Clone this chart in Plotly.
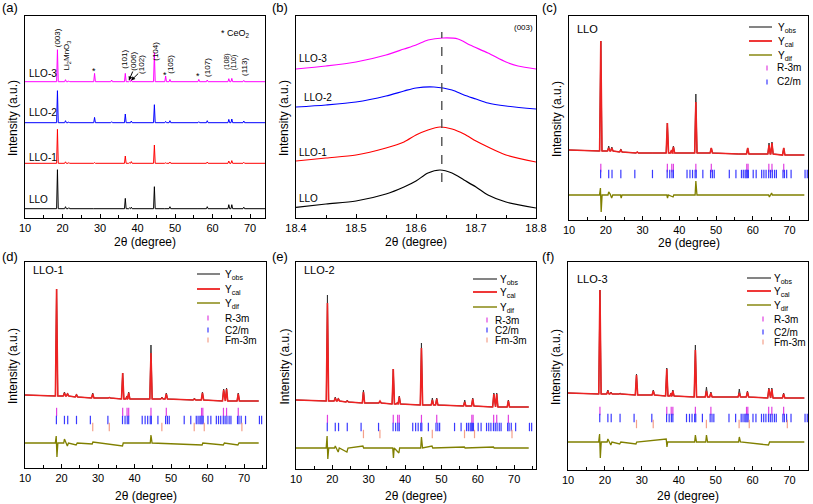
import plotly.graph_objects as go

W, H = 813, 504
FONT = "Arial, 'Liberation Sans', sans-serif"

# ---------------- DATA ----------------
# (a) XRD patterns: peak positions (2theta) and peak heights above each baseline
a_peaks = [18.65, 20.8, 21.7, 28.55, 33.1, 36.75, 37.9, 38.35, 44.5, 47.5, 48.65, 56.35, 58.6, 64.35, 65.15, 68.35]
a_LLO   = [39, 2, 1, 0, 0, 10.3, 0.8, 1.5, 22, 0, 2, 0, 2, 4, 4, 1.5]
a_LLO1  = [34, 1.5, 0.8, 0.7, 0, 7.3, 0.6, 1.7, 18.3, 0.5, 1.3, 0, 1.3, 2.3, 2.7, 1]
a_LLO2  = [32, 2, 0.8, 5.3, 1, 8.7, 0.6, 1.7, 18, 1.3, 2, 1, 2, 3.3, 3.7, 1.7]
a_LLO3  = [32, 2, 0.8, 8.3, 1.7, 8.3, 0.8, 2, 29, 5.7, 2.3, 2.3, 1.7, 3, 3.3, 1.3]
a_samples = ["LLO", "LLO-1", "LLO-2", "LLO-3"]
a_offsets = [9.3, 54.7, 95.3, 136.3]

# (b) zoom on (003) reflection
b_LLO_x  = [18.40, 18.45, 18.50, 18.55, 18.58, 18.60, 18.62, 18.64, 18.66, 18.68, 18.70, 18.72, 18.75, 18.80]
b_LLO_y  = [10.7, 14, 17, 24, 31, 37, 45, 48, 45, 38, 31, 23, 16, 10]
b_LLO1_x = [18.40, 18.45, 18.50, 18.55, 18.58, 18.60, 18.62, 18.64, 18.66, 18.68, 18.70, 18.72, 18.75, 18.80]
b_LLO1_y = [57, 60, 63, 70, 76, 83, 88, 91, 89, 84, 77, 71, 63, 56]
b_LLO2_x = [18.40, 18.45, 18.50, 18.55, 18.58, 18.60, 18.63, 18.66, 18.68, 18.70, 18.72, 18.75, 18.80]
b_LLO2_y = [111, 113, 116, 122, 127, 130, 131, 128, 123, 119, 115, 112, 109]
b_LLO3_x = [18.40, 18.45, 18.50, 18.55, 18.58, 18.60, 18.62, 18.645, 18.67, 18.69, 18.72, 18.75, 18.77, 18.80]
b_LLO3_y = [149, 152, 156, 163, 169, 173, 178, 180, 179, 173, 165, 156, 152, 149]
b_ref = 18.643

# Rietveld panels (c)-(f)
rv_peaks = [18.65, 20.8, 21.65, 24.1, 28.55, 33.1, 36.75, 37.9, 38.4, 44.5, 47.5, 48.7, 56.4, 58.6, 64.4, 65.2, 68.4]

c_base = [69, 69, 69, 68, 67, 67, 67, 67, 67, 67, 67, 67, 66, 66, 66, 66, 65]
c_obs  = [179, 74, 73, 71, 68, 67, 97, 70, 74, 126, 67, 72, 66, 72, 77, 78, 72]
c_cal  = [179, 72, 72, 70, 68, 67, 97, 70, 73, 118, 67, 72, 66, 72, 75, 77, 72]
c_bg   = [(10, 70), (74, 65)]
c_dif_x = [10, 18.3, 18.55, 18.75, 19.0, 20.6, 20.8, 21.2, 21.6, 21.9, 24.0, 24.2, 24.4, 36.6, 36.8, 37.0, 38.3, 38.5, 44.3, 44.5, 44.8, 64.3, 64.5, 65.1, 65.3, 74]
c_dif_y = [25, 25, 32, 8, 25, 25, 28, 26, 22, 25, 25, 22, 25, 25, 22, 25, 23, 25, 25, 39, 25, 25, 23, 27, 25, 25]

d_base = [72, 72, 72, 71, 70, 70, 69, 69, 69, 69, 69, 69, 68, 68, 67, 67, 67]
d_obs  = [179, 76, 75, 74, 75, 70.5, 95, 72, 76, 123, 71, 75, 70, 76, 79, 80, 75]
d_cal  = [179, 75, 74, 73, 74, 70.5, 95, 71, 75, 115, 70, 74, 69, 75, 78, 79, 74]
d_bg   = [(10, 73), (74, 67)]
d_dif_x = [10, 18.3, 18.55, 18.75, 19.0, 20.6, 20.8, 21.1, 21.6, 21.9, 24.0, 24.3, 28.4, 28.6, 36.7, 36.9, 44.3, 44.5, 44.8, 58.5, 58.7, 64.3, 64.6, 68.3, 68.6, 74]
d_dif_y = [25, 25, 32, 11, 25, 25, 29, 26, 22, 25, 23, 25, 24, 26, 22, 25, 25, 33, 25, 23, 25, 23, 25, 23, 25, 25]

e_base = [68, 68, 68, 67, 66, 66, 65, 65, 65, 64, 64, 64, 63, 63, 62, 62, 62]
e_obs  = [174, 72, 71, 69, 79, 68, 100, 67, 73, 126, 71, 71, 69, 71, 76, 76, 69]
e_cal  = [166, 71, 70, 68, 77, 68, 100, 66, 72, 121, 69, 70, 67, 70, 75, 75, 68]
e_bg   = [(10, 69), (74, 62)]
e_dif_x = [10, 18.3, 18.55, 18.75, 19.0, 20.6, 20.8, 21.1, 21.6, 21.9, 24.0, 24.3, 28.4, 28.6, 36.6, 36.8, 37.0, 38.3, 38.5, 44.3, 44.5, 44.8, 47.4, 47.6, 56.3, 56.5, 64.3, 64.5, 74]
e_dif_y = [21, 21, 33, 10, 21, 21, 23, 21, 17, 21, 17, 21, 23, 21, 21, 11, 21, 16, 21, 21, 32, 21, 23, 21, 22, 21, 22, 21, 21]

f_base = [76, 76, 76, 76, 75, 75, 74, 74, 74, 73, 73, 73, 73, 73, 72, 72, 72]
f_obs  = [180, 80, 78, 77, 96, 80, 102, 77, 80, 125, 83, 78, 81, 79, 82, 82, 77]
f_cal  = [180, 79, 77, 76, 95, 79, 101, 76, 79, 120, 79, 77, 77, 78, 81, 81, 76]
f_bg   = [(10, 77), (74, 72)]
f_dif_x = [10, 18.3, 18.55, 18.75, 19.0, 20.6, 20.8, 21.1, 21.6, 21.9, 24.0, 24.3, 28.4, 28.6, 36.6, 36.8, 37.0, 44.3, 44.5, 44.8, 47.3, 47.5, 47.8, 56.2, 56.4, 56.7, 64.3, 64.6, 74]
f_dif_y = [28, 28, 36, 12, 28, 28, 31, 28, 25, 28, 26, 28, 26, 28, 31, 23, 28, 28, 35, 28, 28, 35, 28, 28, 33, 28, 25, 28, 28]

# Bragg reflection positions
R3m_pos  = [18.65, 36.75, 37.95, 38.4, 44.5, 48.7, 58.35, 58.7, 64.35, 65.2, 68.4]
C2m_pos  = [18.6, 20.8, 21.7, 24.1, 27.9, 32.7, 36.7, 37.4, 38.0, 38.4, 42.1, 42.9, 43.6, 44.3, 44.6, 46.4,
            48.5, 49.0, 49.5, 53.6, 55.4, 56.9, 57.4, 57.9, 58.2, 58.5, 58.8, 60.1, 60.9, 62.4, 63.0, 63.6,
            64.3, 64.8, 65.3, 65.9, 66.4, 68.2, 68.6, 69.2, 70.4, 74.2, 74.8]
Fm3m_pos = [28.55, 33.08, 47.48, 56.34, 59.09, 69.4]

# ---------------- STYLE / LAYOUT ----------------
C_A = ["#000000", "#FF0000", "#0000FF", "#FF00FF"]
C_OBS, C_CAL, C_DIF = "#333333", "#EE2222", "#808000"
C_R, C_C, C_F = "#E040E0", "#3A3AFF", "#F4A08A"

panels = {  # pixel boxes: left, right, top, bottom ; x range ; title offset
    "a": (25, 265, 16, 218, [10, 74], 24),
    "b": (296, 536, 16, 218, [18.4, 18.8], 24),
    "c": (569, 808, 16, 220, [10, 75], 23),
    "d": (25, 266, 262, 468, [10, 76], 28),
    "e": (296, 536, 262, 469, [10, 76], 27),
    "f": (568, 808, 262, 470, [10, 75], 26),
}
order = ["a", "b", "c", "d", "e", "f"]
letter_pos = {"a": (0, 8), "b": (270, 8), "c": (540, 8), "d": (0, 256), "e": (270, 256), "f": (540, 256)}


def px(x):
    return x / W


def py(y):
    return 1 - y / H


fig = go.Figure()
layout = dict(width=W, height=H, margin=dict(l=0, r=0, t=0, b=0, autoexpand=False),
              paper_bgcolor="white", plot_bgcolor="white", showlegend=False,
              font=dict(family=FONT, size=12, color="black"))
annotations, shapes = [], []

for i, k in enumerate(order, start=1):
    l, r, t, b, xr, toff = panels[k]
    sfx = "" if i == 1 else str(i)
    xa = dict(domain=[px(l), px(r)], range=xr, anchor="y" + sfx, showline=True, mirror=True,
              linecolor="black", linewidth=1, ticks="inside", ticklen=4, tickcolor="black",
              showgrid=False, zeroline=False, tickfont=dict(size=11, family=FONT), automargin=False)
    if k == "b":
        xa.update(tick0=18.4, dtick=0.1, tickformat=".1f",
                  minor=dict(dtick=0.05, ticks="inside", ticklen=3, tickcolor="black", showgrid=False))
    else:
        xa.update(tick0=10, dtick=10,
                  minor=dict(dtick=5, ticks="inside", ticklen=3, tickcolor="black", showgrid=False))
    ya = dict(domain=[py(b), py(t)], range=[0, b - t], anchor="x" + sfx, showline=True, mirror=True,
              linecolor="black", linewidth=1, ticks="", showticklabels=False, showgrid=False,
              zeroline=False, automargin=False)
    layout["xaxis" + sfx] = xa
    layout["yaxis" + sfx] = ya
    annotations.append(dict(text="(%s)" % k, x=px(letter_pos[k][0]), y=py(letter_pos[k][1]),
                            xref="paper", yref="paper", xanchor="left", yanchor="middle",
                            showarrow=False, font=dict(size=13)))
    annotations.append(dict(text="2θ (degree)", x=px((l + r) / 2), y=py(b + toff), xref="paper", yref="paper",
                            xanchor="center", yanchor="middle", showarrow=False, font=dict(size=12)))
    annotations.append(dict(text="Intensity (a.u.)", x=px(l - 12), y=py((t + b) / 2 + 1), xref="paper",
                            yref="paper", xanchor="center", yanchor="middle", textangle=-90,
                            showarrow=False, font=dict(size=12)))


def spikes(pk, tops, bases, bg, hw):
    xs, ys = [bg[0][0]], [bg[0][1]]
    for p, tp, bs in zip(pk, tops, bases):
        xs += [p - hw, p, p + hw]
        ys += [bs, tp, bs]
    xs.append(bg[1][0]); ys.append(bg[1][1])
    return xs, ys


# ---- panel (a)
for name, hts, off, col in zip(a_samples, [a_LLO, a_LLO1, a_LLO2, a_LLO3], a_offsets, C_A):
    xs, ys = spikes(a_peaks, [off + h for h in hts], [off] * len(hts), [(10, off), (74, off)], 0.22)
    fig.add_trace(go.Scatter(x=xs, y=ys, mode="lines", line=dict(color=col, width=1), name=name,
                             xaxis="x", yaxis="y"))
a_label_y = [200, 157, 113, 73]
for name, yy in zip(a_samples, a_label_y):
    annotations.append(dict(text=name, x=px(27), y=py(yy), xref="paper", yref="paper", xanchor="left",
                            yanchor="middle", showarrow=False, font=dict(size=10)))

hkl = [("(003)", 18.6, 180, 8), ("(101)", 36.3, 159, 8), ("(006)", 38.7, 157, 8), ("(102)", 40.9, 154, 8),
       ("(104)", 44.6, 167, 8), ("(105)", 48.6, 154, 8), ("(107)", 58.5, 151, 8), ("(108)", 63.8, 156, 7),
       ("(110)", 65.6, 155, 7), ("(113)", 68.4, 151, 8), ("Li<sub>2</sub>MnO<sub>3</sub>", 21.3, 163, 8)]
for txt, xx, yy, fs in hkl:
    annotations.append(dict(text=txt, x=xx, y=yy, xref="x", yref="y", textangle=-90, showarrow=False,
                            xanchor="center", yanchor="middle", font=dict(size=fs)))
for xx, yy in [(28.5, 147), (47.2, 143), (56.1, 142)]:
    annotations.append(dict(text="*", x=xx, y=yy, xref="x", yref="y", showarrow=False,
                            xanchor="center", yanchor="middle", font=dict(size=9)))
annotations.append(dict(text="* CeO<sub>2</sub>", x=66.2, y=185, xref="x", yref="y", showarrow=False,
                        xanchor="center", yanchor="middle", font=dict(size=9)))
for tipx, tailx, taily in [(37.7, 38.9, 148), (38.3, 40.6, 146)]:
    annotations.append(dict(text="", x=tipx, y=137.5, ax=tailx, ay=taily, axref="x", ayref="y",
                            xref="x", yref="y", showarrow=True, arrowhead=2, arrowsize=0.8,
                            arrowwidth=1, arrowcolor="black"))

# ---- panel (b)
for name, xs, ys, col in zip(a_samples, [b_LLO_x, b_LLO1_x, b_LLO2_x, b_LLO3_x],
                             [b_LLO_y, b_LLO1_y, b_LLO2_y, b_LLO3_y], C_A):
    fig.add_trace(go.Scatter(x=xs, y=ys, mode="lines",
                             line=dict(color=col, width=1.2, shape="spline", smoothing=0.8),
                             name=name, xaxis="x2", yaxis="y2"))
shapes.append(dict(type="line", xref="x2", yref="y2", x0=b_ref, x1=b_ref, y0=36, y1=186,
                   line=dict(color="#444444", width=1.3, dash="dash")))
for name, lx, yy in zip(a_samples, [297, 297, 302, 297], [199, 152, 98, 58]):
    annotations.append(dict(text=name, x=px(lx), y=py(yy), xref="paper", yref="paper", xanchor="left",
                            yanchor="middle", showarrow=False, font=dict(size=10)))
annotations.append(dict(text="(003)", x=px(523), y=py(27), xref="paper", yref="paper", xanchor="center",
                        yanchor="middle", showarrow=False, font=dict(size=8)))

# ---- panels (c)-(f)
rv = [
    ("c", 3, c_obs, c_cal, c_base, c_bg, c_dif_x, c_dif_y, (52, 46, None), "LLO", (575, 29),
     dict(lx0=749, lx1=772, tx=776, mx=767, mtx=775, rows=[27, 41, 55, 68, 82])),
    ("d", 4, d_obs, d_cal, d_base, d_bg, d_dif_x, d_dif_y, (56, 48, 41), "LLO-1", (31, 270),
     dict(lx0=197, lx1=220, tx=223, mx=208, mtx=223, rows=[274, 289, 303, 318, 330, 340])),
    ("e", 5, e_obs, e_cal, e_base, e_bg, e_dif_x, e_dif_y, (50, 42, 35), "LLO-2", (302, 270),
     dict(lx0=473, lx1=497, tx=498, mx=487, mtx=493, rows=[279, 292, 307, 320, 330, 340])),
    ("f", 6, f_obs, f_cal, f_base, f_bg, f_dif_x, f_dif_y, (59, 52, 46), "LLO-3", (575, 279),
     dict(lx0=747, lx1=771, tx=772, mx=763, mtx=772, rows=[278, 291, 305, 319, 332, 342])),
]
leg_names = ["Y<sub>obs</sub>", "Y<sub>cal</sub>", "Y<sub>dif</sub>", "R-3m", "C2/m", "Fm-3m"]
for k, n, obs, cal, base, bg, dx, dy, tick_y, label, lpos, leg in rv:
    xa, ya = "x%d" % n, "y%d" % n
    xs, ys = spikes(rv_peaks, obs, base, bg, 0.32)
    fig.add_trace(go.Scatter(x=xs, y=ys, mode="lines", line=dict(color=C_OBS, width=1), name="Yobs",
                             xaxis=xa, yaxis=ya))
    xs, ys = spikes(rv_peaks, cal, base, bg, 0.32)
    fig.add_trace(go.Scatter(x=xs, y=ys, mode="lines", line=dict(color=C_CAL, width=1.6), name="Ycal",
                             xaxis=xa, yaxis=ya))
    fig.add_trace(go.Scatter(x=dx, y=dy, mode="lines", line=dict(color=C_DIF, width=1.3), name="Ydif",
                             xaxis=xa, yaxis=ya))
    for pos, yv, col, nm in zip([R3m_pos, C2m_pos, Fm3m_pos], tick_y, [C_R, C_C, C_F],
                                ["R-3m", "C2/m", "Fm-3m"]):
        if yv is None:
            continue
        fig.add_trace(go.Scatter(x=pos, y=[yv] * len(pos), mode="markers", name=nm, xaxis=xa, yaxis=ya,
                                 marker=dict(symbol="line-ns", size=6, line=dict(width=1.2, color=col)),
                                 cliponaxis=True))
    annotations.append(dict(text=label, x=px(lpos[0]), y=py(lpos[1]), xref="paper", yref="paper",
                            xanchor="left", yanchor="middle", showarrow=False, font=dict(size=11)))
    for j, ry in enumerate(leg["rows"]):
        if j < 3:
            col = [C_OBS, C_CAL, C_DIF][j]
            wdt = [1.2, 1.8, 1.4][j]
            shapes.append(dict(type="line", xref="paper", yref="paper", x0=px(leg["lx0"]), x1=px(leg["lx1"]),
                               y0=py(ry), y1=py(ry), line=dict(color=col, width=wdt)))
            annotations.append(dict(text=leg_names[j], x=px(leg["tx"]), y=py(ry + 1), xref="paper",
                                    yref="paper", xanchor="left", yanchor="middle", showarrow=False,
                                    font=dict(size=10)))
        else:
            col = [C_R, C_C, C_F][j - 3]
            shapes.append(dict(type="line", xref="paper", yref="paper", x0=px(leg["mx"]), x1=px(leg["mx"]),
                               y0=py(ry + 2.5), y1=py(ry - 2.5), line=dict(color=col, width=1.2)))
            annotations.append(dict(text=leg_names[j], x=px(leg["mtx"]), y=py(ry), xref="paper",
                                    yref="paper", xanchor="left", yanchor="middle", showarrow=False,
                                    font=dict(size=10)))

layout["annotations"] = annotations
layout["shapes"] = shapes
fig.update_layout(**layout)
fig.write_html("out.html", config={"displayModeBar": False},
               post_script="document.body.style.margin='0px';")
